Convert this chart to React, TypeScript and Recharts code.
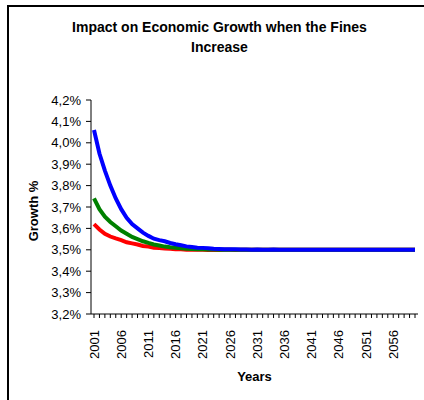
import { LineChart, Line, XAxis, YAxis } from 'recharts';

const years = [
  2001, 2002, 2003, 2004, 2005, 2006, 2007, 2008, 2009, 2010,
  2011, 2012, 2013, 2014, 2015, 2016, 2017, 2018, 2019, 2020,
  2021, 2022, 2023, 2024, 2025, 2026, 2027, 2028, 2029, 2030,
  2031, 2032, 2033, 2034, 2035, 2036, 2037, 2038, 2039, 2040,
  2041, 2042, 2043, 2044, 2045, 2046, 2047, 2048, 2049, 2050,
  2051, 2052, 2053, 2054, 2055, 2056, 2057, 2058, 2059, 2060,
];

const redSeries = [
  3.62, 3.595, 3.575, 3.562, 3.553, 3.545, 3.535, 3.53, 3.525, 3.518,
  3.515, 3.51, 3.508, 3.506, 3.505, 3.503, 3.502, 3.5, 3.501, 3.5,
  3.5, 3.499, 3.5, 3.499, 3.5, 3.5, 3.499, 3.5, 3.5, 3.5,
  3.5, 3.5, 3.5, 3.5, 3.5, 3.5, 3.5, 3.5, 3.5, 3.5,
  3.5, 3.5, 3.5, 3.5, 3.5, 3.5, 3.5, 3.5, 3.5, 3.5,
  3.5, 3.5, 3.5, 3.5, 3.5, 3.5, 3.5, 3.5, 3.5, 3.5,
];

const greenSeries = [
  3.74, 3.69, 3.655, 3.63, 3.61, 3.59, 3.575, 3.56, 3.55, 3.54,
  3.532, 3.525, 3.52, 3.515, 3.512, 3.51, 3.507, 3.505, 3.504, 3.503,
  3.502, 3.501, 3.501, 3.5, 3.5, 3.5, 3.5, 3.5, 3.5, 3.5,
  3.5, 3.5, 3.5, 3.5, 3.5, 3.5, 3.5, 3.5, 3.5, 3.5,
  3.5, 3.5, 3.5, 3.5, 3.5, 3.5, 3.5, 3.5, 3.5, 3.5,
  3.5, 3.5, 3.5, 3.5, 3.5, 3.5, 3.5, 3.5, 3.5, 3.5,
];

const blueSeries = [
  4.06, 3.95, 3.87, 3.8, 3.74, 3.69, 3.65, 3.62, 3.6, 3.58,
  3.565, 3.552, 3.545, 3.54, 3.532, 3.526, 3.521, 3.516, 3.513, 3.51,
  3.509, 3.507, 3.505, 3.504, 3.503, 3.502, 3.502, 3.501, 3.501, 3.5,
  3.501, 3.5, 3.5, 3.501, 3.5, 3.5, 3.5, 3.5, 3.5, 3.5,
  3.5, 3.5, 3.5, 3.5, 3.5, 3.5, 3.5, 3.5, 3.5, 3.5,
  3.5, 3.5, 3.5, 3.5, 3.5, 3.5, 3.5, 3.5, 3.5, 3.5,
];

const yTicks = [3.2, 3.3, 3.4, 3.5, 3.6, 3.7, 3.8, 3.9, 4.0, 4.1, 4.2];

const data = years.map((year, i) => ({
  year,
  red: redSeries[i],
  green: greenSeries[i],
  blue: blueSeries[i],
}));

const FONT = '"Liberation Sans", Arial, sans-serif';

const YearTick = (props: any) => {
  const { x, y, payload, index } = props;
  if (index % 5 !== 0) return null;
  return (
    <text
      transform={`translate(${x + 4.5},${y + 10}) rotate(-90)`}
      textAnchor="end"
      fontSize={13}
      fontFamily={FONT}
      fill="#000"
    >
      {payload.value}
    </text>
  );
};

export default function App() {
  return (
    <div style={{ position: 'absolute', left: 0, top: 0, width: 424, height: 400, overflow: 'hidden', background: '#fff' }}>
      <div
        style={{
          position: 'absolute', left: 7, top: 5, width: 440, height: 420,
          border: '2px solid #000', boxSizing: 'border-box',
        }}
      />
      <div
        style={{
          position: 'absolute', left: 59, top: 17, width: 321, textAlign: 'center',
          fontFamily: FONT, fontWeight: 'bold', fontSize: 14, lineHeight: '20px', color: '#000',
        }}
      >
        Impact on Economic Growth when the Fines Increase
      </div>
      <div style={{ position: 'absolute', left: 0, top: 0 }}>
        <LineChart width={424} height={400} data={data} margin={{ top: 100, right: 6, bottom: 0, left: 0 }}>
          <XAxis
            dataKey="year"
            interval={0}
            height={86}
            padding={{ left: 3, right: 3 }}
            tickSize={4}
            tickMargin={2}
            tick={<YearTick />}
            axisLine={{ stroke: '#000', strokeWidth: 1 }}
            tickLine={{ stroke: '#000' }}
            label={{
              value: 'Years', position: 'insideBottom', offset: 19,
              style: { fontFamily: FONT, fontWeight: 'bold', fontSize: 13, fill: '#000' },
            }}
          />
          <YAxis
            width={91}
            domain={[3.2, 4.2]}
            ticks={yTicks}
            tickSize={5}
            tickMargin={5}
            tickFormatter={(v: number) => `${v.toFixed(1).replace('.', ',')}%`}
            tick={{ fontFamily: FONT, fontSize: 13, fill: '#000' }}
            axisLine={{ stroke: '#000', strokeWidth: 1 }}
            tickLine={{ stroke: '#000' }}
            label={{
              content: ({ viewBox }: any) => {
                const cx = viewBox.x + 33;
                const cy = viewBox.y + viewBox.height / 2;
                return (
                  <text
                    transform={`translate(${cx + 4.5},${cy + 4}) rotate(-90)`}
                    textAnchor="middle"
                    fontFamily={FONT}
                    fontWeight="bold"
                    fontSize={13}
                    fill="#000"
                  >
                    Growth %
                  </text>
                );
              },
            }}
          />
          <Line type="linear" dataKey="red" stroke="#ff0000" strokeWidth={4} dot={false} isAnimationActive={false} />
          <Line type="linear" dataKey="green" stroke="#008000" strokeWidth={4} dot={false} isAnimationActive={false} />
          <Line type="linear" dataKey="blue" stroke="#0000ff" strokeWidth={4} dot={false} isAnimationActive={false} />
        </LineChart>
      </div>
    </div>
  );
}
